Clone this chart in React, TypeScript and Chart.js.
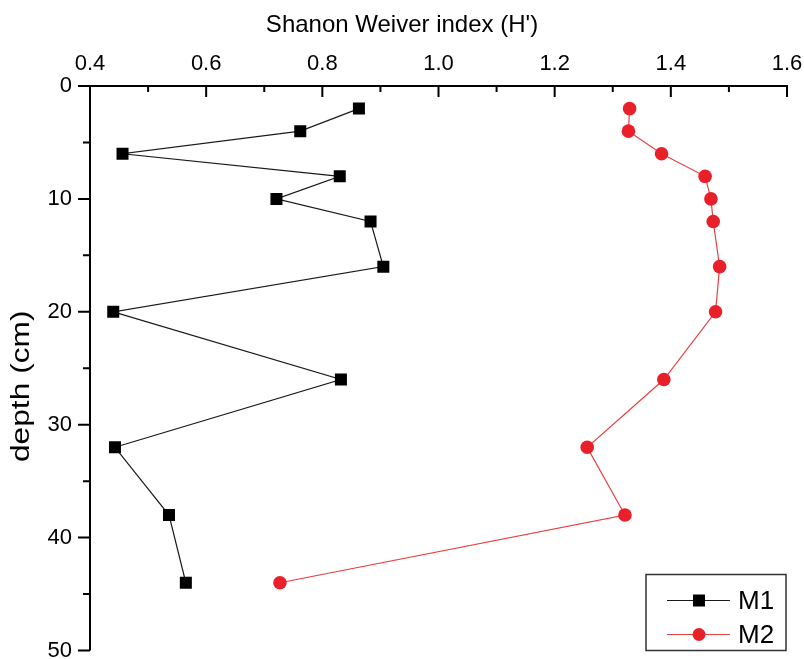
import React, { useEffect, useRef } from 'react';
import { Chart, registerables } from 'chart.js';

Chart.register(...registerables);

const depths = [2, 4, 6, 8, 10, 12, 16, 20, 26, 32, 38, 44];
const m1Values = [0.863, 0.762, 0.456, 0.830, 0.721, 0.883, 0.905, 0.440, 0.832, 0.443, 0.536, 0.565];
const m2Values = [1.329, 1.327, 1.384, 1.459, 1.469, 1.473, 1.484, 1.477, 1.388, 1.256, 1.321, 0.727];
const xMajorTicks = [0.4, 0.6, 0.8, 1.0, 1.2, 1.4, 1.6];
const xMinorTicks = [0.5, 0.7, 0.9, 1.1, 1.3, 1.5];
const yMajorTicks = [0, 10, 20, 30, 40, 50];
const yMinorTicks = [5, 15, 25, 35, 45];
const seriesLabels = ['M1', 'M2'];
const xTitle = "Shanon Weiver index (H')";
const yTitle = 'depth (cm)';

const FONT = '"Liberation Sans", Arial, sans-serif';

const axesPlugin = {
  id: 'originAxes',
  afterDatasetsDraw(chart: any) {
    const { ctx, chartArea, scales } = chart;
    const { left, top, right, bottom } = chartArea;
    const xs = scales.x;
    const ys = scales.y;
    ctx.save();
    ctx.strokeStyle = '#000';
    ctx.lineWidth = 2;
    ctx.lineCap = 'butt';
    ctx.beginPath();
    ctx.moveTo(left - 1, top);
    ctx.lineTo(right + 1, top);
    ctx.moveTo(left, top);
    ctx.lineTo(left, bottom);
    ctx.stroke();
    ctx.beginPath();
    xMajorTicks.forEach((v) => {
      const px = xs.getPixelForValue(v);
      ctx.moveTo(px, top);
      ctx.lineTo(px, top + 11);
    });
    xMinorTicks.forEach((v) => {
      const px = xs.getPixelForValue(v);
      ctx.moveTo(px, top);
      ctx.lineTo(px, top + 6);
    });
    yMajorTicks.forEach((v) => {
      const py = ys.getPixelForValue(v);
      ctx.moveTo(left, py);
      ctx.lineTo(left - 12, py);
    });
    yMinorTicks.forEach((v) => {
      const py = ys.getPixelForValue(v);
      ctx.moveTo(left, py);
      ctx.lineTo(left - 7, py);
    });
    ctx.stroke();

    // y-axis title (slightly elongated like the reference)
    ctx.save();
    ctx.translate(22, (top + bottom) / 2 + 18);
    ctx.rotate(-Math.PI / 2);
    ctx.scale(1.22, 1);
    ctx.fillStyle = '#000';
    ctx.font = `26px ${FONT}`;
    ctx.textAlign = 'center';
    ctx.textBaseline = 'middle';
    ctx.fillText(yTitle, 0, 0);
    ctx.restore();

    ctx.restore();
  },
};

const legendPlugin = {
  id: 'boxLegend',
  afterDraw(chart: any) {
    const { ctx, chartArea } = chart;
    const bx = chartArea.right - 141;
    const by = chartArea.bottom - 76;
    const bw = 140;
    const bh = 76;
    ctx.save();
    ctx.fillStyle = '#fff';
    ctx.fillRect(bx, by, bw, bh);
    ctx.strokeStyle = '#333';
    ctx.lineWidth = 1.5;
    ctx.strokeRect(bx, by, bw, bh);
    chart.data.datasets.forEach((ds: any, i: number) => {
      const cy = by + 26 + i * 34;
      ctx.strokeStyle = ds.borderColor;
      ctx.lineWidth = ds.borderWidth;
      ctx.beginPath();
      ctx.moveTo(bx + 21, cy);
      ctx.lineTo(bx + 84, cy);
      ctx.stroke();
      ctx.fillStyle = ds.pointBackgroundColor;
      if (ds.pointStyle === 'rect') {
        ctx.fillRect(bx + 53 - 6, cy - 6, 12, 12);
      } else {
        ctx.beginPath();
        ctx.arc(bx + 53, cy, 6.5, 0, Math.PI * 2);
        ctx.fill();
      }
      ctx.fillStyle = '#000';
      ctx.font = `26px ${FONT}`;
      ctx.textAlign = 'left';
      ctx.textBaseline = 'middle';
      ctx.fillText(ds.label, bx + 92, cy + 1);
    });
    ctx.restore();
  },
};

export default function App() {
  const canvasRef = useRef<HTMLCanvasElement | null>(null);

  useEffect(() => {
    document.body.style.margin = '0';
    const canvas = canvasRef.current;
    if (!canvas) return;
    const m1Data = depths.map((d, i) => ({ x: m1Values[i], y: d }));
    const m2Data = depths.map((d, i) => ({ x: m2Values[i], y: d }));
    const chart = new Chart(canvas, {
      type: 'line',
      data: {
        datasets: [
          {
            label: seriesLabels[0],
            data: m1Data,
            borderColor: '#1a1a1a',
            backgroundColor: '#000',
            pointBackgroundColor: '#000',
            pointBorderColor: '#000',
            pointBorderWidth: 0,
            pointStyle: 'rect',
            pointRadius: 8.5,
            borderWidth: 1.2,
            tension: 0,
          },
          {
            label: seriesLabels[1],
            data: m2Data,
            borderColor: '#e8413f',
            backgroundColor: '#e8202a',
            pointBackgroundColor: '#e8202a',
            pointBorderColor: '#e8202a',
            pointBorderWidth: 0,
            pointStyle: 'circle',
            pointRadius: 6.8,
            borderWidth: 1.2,
            tension: 0,
          },
        ],
      },
      options: {
        animation: false,
        responsive: false,
        maintainAspectRatio: false,
        layout: { autoPadding: true, padding: 0 },
        plugins: {
          legend: { display: false },
          tooltip: { enabled: false },
          title: {
            display: true,
            text: xTitle,
            color: '#000',
            font: { family: FONT, size: 24, weight: 'normal' },
            padding: { top: 11, bottom: 0 },
          },
        },
        scales: {
          x: {
            type: 'linear',
            position: 'top',
            min: 0.4,
            max: 1.6,
            afterFit: (s: any) => {
              s.height = 86 - 11 - 24 * 1.2;
              s.paddingLeft = 0;
              s.paddingRight = 17;
            },
            afterBuildTicks: (s: any) => { s.ticks = xMajorTicks.map((v) => ({ value: v })); },
            grid: { display: false, drawTicks: true, tickLength: 9 },
            border: { display: false },
            ticks: {
              color: '#000',
              font: { family: FONT, size: 22 },
              padding: 0,
              maxRotation: 0,
              callback: (v: any) => Number(v).toFixed(1),
            },
          },
          y: {
            type: 'linear',
            reverse: true,
            min: 0,
            max: 50,
            afterFit: (s: any) => {
              s.width = 90;
              s.paddingTop = 0;
              s.paddingBottom = 7;
            },
            afterBuildTicks: (s: any) => { s.ticks = yMajorTicks.map((v) => ({ value: v })); },
            grid: { display: false, drawTicks: true, tickLength: 10 },
            border: { display: false },
            ticks: {
              color: '#000',
              font: { family: FONT, size: 22 },
              padding: 8,
            },
          },
        },
      },
      plugins: [axesPlugin, legendPlugin],
    });
    return () => chart.destroy();
  }, []);

  return (
    <div style={{ width: 804, height: 659, background: '#fff' }}>
      <canvas ref={canvasRef} width={804} height={659} style={{ display: 'block' }} />
    </div>
  );
}
